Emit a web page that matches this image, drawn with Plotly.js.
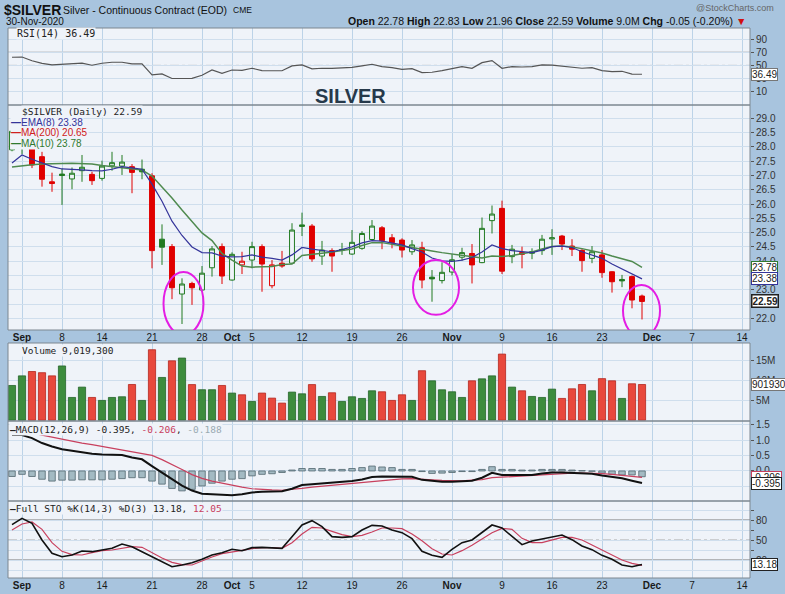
<!DOCTYPE html>
<html><head><meta charset="utf-8">
<script src="https://cdn.plot.ly/plotly-3.0.1.min.js"></script>
<style>html,body{margin:0;padding:0;background:#a8c4de}#chart{width:785px;height:594px}</style>
</head><body><div id="chart"></div>
<script>
// ---------- DATA ----------
const priorClose = 27.6; // close of the session before the first candle
const dates = ['2020-08-31','2020-09-01','2020-09-02','2020-09-03','2020-09-04','2020-09-08','2020-09-09','2020-09-10','2020-09-11','2020-09-14','2020-09-15','2020-09-16','2020-09-17','2020-09-18','2020-09-21','2020-09-22','2020-09-23','2020-09-24','2020-09-25','2020-09-28','2020-09-29','2020-09-30','2020-10-01','2020-10-02','2020-10-05','2020-10-06','2020-10-07','2020-10-08','2020-10-09','2020-10-12','2020-10-13','2020-10-14','2020-10-15','2020-10-16','2020-10-19','2020-10-20','2020-10-21','2020-10-22','2020-10-23','2020-10-26','2020-10-27','2020-10-28','2020-10-29','2020-10-30','2020-11-02','2020-11-03','2020-11-04','2020-11-05','2020-11-06','2020-11-09','2020-11-10','2020-11-11','2020-11-12','2020-11-13','2020-11-16','2020-11-17','2020-11-18','2020-11-19','2020-11-20','2020-11-23','2020-11-24','2020-11-25','2020-11-27','2020-11-30'];
const openP  = [27.90,28.40,28.05,27.66,26.78,27.05,26.88,27.17,27.04,26.90,27.34,27.33,27.31,27.22,26.99,24.77,24.51,22.85,23.22,22.99,23.77,24.51,23.34,23.87,24.04,24.51,23.14,23.93,23.93,25.27,25.23,24.18,24.37,24.38,24.25,24.45,24.76,25.17,24.82,24.74,24.33,24.47,23.44,23.32,23.62,24.14,24.27,23.95,25.42,25.85,24.16,24.30,24.33,24.37,24.78,24.88,24.53,24.38,24.10,24.22,23.63,23.36,23.46,22.78];
const highP  = [28.90,29.05,28.20,27.83,27.10,27.25,27.28,27.72,27.13,27.52,27.83,27.72,27.40,27.56,27.08,25.29,24.60,23.40,23.28,23.83,24.53,24.62,24.31,24.33,24.68,24.59,24.04,24.36,25.33,25.70,25.30,24.71,24.45,24.64,25.09,25.05,25.44,25.23,24.95,24.80,24.74,24.68,23.69,23.96,24.25,24.47,24.60,25.53,25.95,26.12,24.57,24.51,24.45,24.92,25.12,24.92,24.77,24.42,24.53,24.39,23.65,23.52,23.50,22.83];
const lowP   = [27.85,27.75,27.26,26.61,26.43,25.97,26.52,26.78,26.67,26.82,27.17,27.02,26.38,26.87,23.75,23.87,22.67,21.80,22.47,22.97,23.46,23.20,23.32,23.55,23.75,22.93,23.05,23.77,23.91,24.88,23.98,23.87,23.63,24.22,24.22,24.40,24.74,24.42,24.45,24.13,24.22,23.05,22.58,23.22,23.50,24.02,23.22,23.93,24.97,23.55,23.93,23.75,24.07,24.22,24.22,24.39,24.18,23.63,23.93,23.42,22.90,23.09,22.35,21.96];
const closeP = [28.55,28.90,27.37,26.87,26.72,27.00,27.08,27.29,26.82,27.33,27.45,27.47,27.11,27.13,24.37,24.49,23.07,23.20,23.07,23.58,24.43,23.48,24.24,24.00,24.51,23.90,23.87,23.83,25.09,25.22,24.08,24.39,24.18,24.41,24.66,24.97,25.23,24.72,24.65,24.39,24.57,23.34,23.38,23.61,24.05,24.30,23.87,25.15,25.65,23.65,24.42,24.24,24.28,24.77,24.82,24.60,24.42,24.02,24.33,23.60,23.28,23.31,22.64,22.59];
const volumeM = [8.77,11.2,12.3,12.0,11.2,13.7,5.75,8.36,5.75,5.0,5.75,5.92,9.02,5.0,17.8,10.8,15.0,15.7,9.0,7.7,7.7,8.77,6.85,6.42,4.74,6.85,5.58,4.32,7.1,6.67,9.0,6.0,6.93,4.74,5.92,5.5,7.43,7.18,5.0,6.42,5.0,12.5,9.95,7.68,7.18,5.75,9.95,10.45,11.2,16.7,8.36,7.43,6.0,5.75,7.85,5.5,7.93,9.02,7.43,10.5,9.95,5.5,9.2,9.0193];
const ema8 = [27.44,27.72,27.57,27.43,27.31,27.23,27.22,27.20,27.17,27.16,27.22,27.31,27.27,27.22,26.70,26.10,25.40,24.90,24.50,24.30,24.29,24.18,24.15,24.16,24.22,24.14,24.10,24.04,24.22,24.48,24.42,24.37,24.33,24.41,24.50,24.64,24.72,24.70,24.63,24.57,24.44,24.32,24.11,24.01,23.99,24.04,24.13,24.32,24.57,24.44,24.37,24.33,24.30,24.39,24.51,24.53,24.48,24.33,24.22,24.10,23.90,23.72,23.55,23.38];
const ma10 = [27.30,27.35,27.38,27.40,27.40,27.42,27.43,27.42,27.40,27.35,27.31,27.26,27.23,27.19,26.98,26.60,26.21,25.79,25.37,24.99,24.72,24.27,24.04,23.83,23.79,23.79,23.81,23.88,23.90,24.20,24.25,24.28,24.32,24.37,24.43,24.55,24.65,24.65,24.58,24.53,24.48,24.41,24.36,24.30,24.25,24.20,24.15,24.11,24.18,24.16,24.20,24.25,24.32,24.43,24.51,24.53,24.50,24.44,24.37,24.29,24.18,24.09,23.99,23.78];
const ma200Last = 20.65;
const rsi14 = [62.4,62.8,57.0,53.0,50.8,51.7,52.2,53.3,50.2,53.3,54.8,54.8,52.2,52.3,35.4,37.0,30.0,30.5,30.3,35.0,43.0,38.0,43.0,42.5,45.6,42.0,42.0,41.8,49.2,50.7,44.6,45.6,45.3,45.6,47.0,49.2,51.7,48.0,46.6,44.0,45.0,38.9,39.5,42.0,45.6,48.1,45.6,54.2,57.3,45.6,48.1,47.5,48.1,50.7,50.5,49.0,48.1,45.6,46.5,42.0,40.5,41.0,36.7,36.49];
const macdLine = [1.17,1.17,1.07,0.91,0.80,0.71,0.66,0.60,0.56,0.54,0.52,0.52,0.44,0.38,0.16,-0.05,-0.27,-0.48,-0.64,-0.74,-0.76,-0.78,-0.79,-0.76,-0.70,-0.68,-0.68,-0.66,-0.58,-0.46,-0.43,-0.41,-0.38,-0.36,-0.33,-0.28,-0.20,-0.18,-0.18,-0.18,-0.19,-0.29,-0.33,-0.35,-0.35,-0.33,-0.32,-0.22,-0.06,-0.13,-0.13,-0.13,-0.13,-0.08,-0.05,-0.05,-0.06,-0.07,-0.09,-0.15,-0.19,-0.24,-0.32,-0.395];
const macdSignal = [1.35,1.30,1.24,1.17,1.10,1.05,0.98,0.91,0.86,0.80,0.74,0.69,0.64,0.58,0.51,0.37,0.22,0.05,-0.12,-0.24,-0.33,-0.40,-0.48,-0.53,-0.58,-0.61,-0.62,-0.63,-0.61,-0.57,-0.53,-0.50,-0.47,-0.44,-0.41,-0.37,-0.34,-0.30,-0.28,-0.26,-0.25,-0.26,-0.29,-0.31,-0.32,-0.32,-0.30,-0.28,-0.22,-0.20,-0.18,-0.16,-0.14,-0.12,-0.10,-0.08,-0.07,-0.07,-0.07,-0.09,-0.11,-0.14,-0.17,-0.206];
const macdHist = [-0.18,-0.11,-0.18,-0.27,-0.33,-0.30,-0.30,-0.29,-0.29,-0.29,-0.27,-0.25,-0.22,-0.22,-0.33,-0.43,-0.57,-0.65,-0.60,-0.49,-0.40,-0.33,-0.27,-0.25,-0.16,-0.11,-0.09,-0.05,0.03,0.08,0.08,0.08,0.05,0.05,0.08,0.11,0.16,0.13,0.11,0.05,0.05,-0.02,-0.08,-0.07,-0.05,-0.02,-0.02,0.05,0.14,0.05,0.05,0.03,0.03,0.05,0.05,0.05,0.03,0.01,-0.01,-0.07,-0.11,-0.13,-0.13,-0.188];
const stoK = [73,82.5,75,50,30,25,27.5,33.5,32.5,35,37.5,44,40,32.5,25,17.5,10,12.5,16,21,27.5,31,36,34,38.5,39,38.5,37.5,55,72.5,79,70,55,54,55,65,72,71,65,61,52,33,27,24,36,46,50,61,72.5,68,55,43,48.5,51.5,54.5,57.5,50.5,41,35.5,27,21,12.5,10,13.18];
const stoD = [65,74,77,66,46,33,28,27.5,31,34,35,37.5,40,39,31,23,16.5,13,12.5,19,24.5,29.5,32.5,34.5,37,38.5,38.5,37.5,46,59,69,68,63,58,55,57,62,68,68,67,59,49,37,29,27.5,34,42,52,61,67.5,66,52.5,46,46,50,54,54,50,42.5,35,27.5,20,15,12.05];
const holidays = ['2020-09-07','2020-11-26'];
const tickDates = ['2020-09-01','2020-09-08','2020-09-14','2020-09-21','2020-09-28','2020-10-01','2020-10-05','2020-10-12','2020-10-19','2020-10-26','2020-11-02','2020-11-09','2020-11-16','2020-11-23','2020-12-01','2020-12-07','2020-12-14'];
const tickLabels = ['<b>Sep</b>','8','14','21','28','<b>Oct</b>','5','12','19','26','<b>Nov</b>','9','16','23','<b>Dec</b>','7','14'];
const highlightDates = ['2020-09-24','2020-10-29','2020-11-30'];

// ---------- STYLE ----------
const PAPER='#a8c4de', PLOT='#eff3f9', GRID='#cfdeed', VGRID='#bcd3e8', BORDER='#7d8790';
const G='#217a21', R='#e00000';
const SANS='Liberation Sans, Arial, sans-serif';
const MONO='DejaVu Sans Mono, monospace';

function calendar(start,end){const out=[];const d=new Date(start+'T00:00:00Z');const e=new Date(end+'T00:00:00Z');
  while(d<=e){const w=d.getUTCDay();const s=d.toISOString().slice(0,10);if(w!==0&&w!==6&&!holidays.includes(s))out.push(s);d.setUTCDate(d.getUTCDate()+1);}return out;}
const cal = calendar('2020-08-31','2020-12-31');
const X = s => cal.indexOf(s);
const xi = dates.map(X);
const tickvals = tickDates.map(X);
const up = closeP.map((c,i)=> c > (i ? closeP[i-1] : priorClose));

function candleSet(flag,color){
  const ids = xi.map((_,i)=>i).filter(i=>up[i]===flag);
  return {type:'candlestick', xaxis:'x2', yaxis:'y2', hoverinfo:'skip', whiskerwidth:0,
    x: ids.map(i=>xi[i]), open: ids.map(i=>openP[i]), high: ids.map(i=>highP[i]),
    low: ids.map(i=>lowP[i]), close: ids.map(i=>closeP[i]),
    increasing:{line:{color:color,width:1},fillcolor:PLOT},
    decreasing:{line:{color:color,width:1},fillcolor:color}};
}

const traces = [
  {type:'scatter',mode:'lines',x:xi,y:rsi14,xaxis:'x',yaxis:'y',line:{color:'#555',width:1.2},hoverinfo:'skip'},
  candleSet(true,G), candleSet(false,R),
  {type:'scatter',mode:'lines',x:xi,y:ma10,xaxis:'x2',yaxis:'y2',line:{color:'#4f8a4f',width:1.5},hoverinfo:'skip'},
  {type:'scatter',mode:'lines',x:xi,y:ema8,xaxis:'x2',yaxis:'y2',line:{color:'#34349a',width:1.2},hoverinfo:'skip'},
  {type:'bar',x:xi,y:volumeM,xaxis:'x',yaxis:'y3',width:0.72,hoverinfo:'skip',
    marker:{color:up.map(u=>u?'#3d8c3d':'#e8483c'),line:{color:up.map(u=>u?'#25652a':'#b3261e'),width:0.8}}},
  {type:'bar',x:xi,y:macdHist,xaxis:'x',yaxis:'y4',width:0.65,hoverinfo:'skip',
    marker:{color:'#a3bac3',line:{color:'#51666f',width:0.8}}},
  {type:'scatter',mode:'lines',x:xi,y:macdSignal,xaxis:'x',yaxis:'y4',line:{color:'#c8405e',width:1.2},hoverinfo:'skip'},
  {type:'scatter',mode:'lines',x:xi,y:macdLine,xaxis:'x',yaxis:'y4',line:{color:'#111',width:2},hoverinfo:'skip'},
  {type:'scatter',mode:'lines',x:xi,y:stoD,xaxis:'x',yaxis:'y5',line:{color:'#c8405e',width:1.2},hoverinfo:'skip'},
  {type:'scatter',mode:'lines',x:xi,y:stoK,xaxis:'x',yaxis:'y5',line:{color:'#111',width:1.6},hoverinfo:'skip'}
];

const T=28, H=550;
const py = p => 1-(p-T)/H;
const D = {rsi:[py(105),1], main:[py(330),py(105)], vol:[py(421),py(343)], macd:[py(501),py(421)], sto:[0,py(501)]};

const yBase = {side:'right',anchor:'x',showgrid:true,gridcolor:GRID,gridwidth:1,zeroline:false,ticks:'outside',ticklen:3,tickcolor:'#555',
  tickfont:{family:SANS,size:10,color:'#333'},showline:false,fixedrange:true};
const xBase = {range:[-0.4,73.8],tickvals:tickvals,ticktext:tickLabels,showgrid:true,gridcolor:VGRID,gridwidth:1,zeroline:false,
  ticks:'',tickfont:{family:SANS,size:10,color:'#1a1a1a'},showline:false,fixedrange:true,rangeslider:{visible:false}};

const layout = {
  width:785,height:594,margin:{l:8,r:35,t:T,b:16},paper_bgcolor:PAPER,plot_bgcolor:PLOT,showlegend:false,
  font:{family:SANS,size:10,color:'#222'},
  xaxis:Object.assign({},xBase,{anchor:'y5'}),
  xaxis2:Object.assign({},xBase,{anchor:'y2',matches:'x'}),
  yaxis:Object.assign({},yBase,{domain:D.rsi,range:[-10.4,107],tickvals:[10,30,50,70,90]}),
  yaxis2:Object.assign({},yBase,{domain:D.main,range:[21.59,29.47],dtick:0.5,tick0:22,tickformat:'.1f'}),
  yaxis3:Object.assign({},yBase,{domain:D.vol,range:[-0.2,19.5],tickvals:[5,10,15],ticktext:['5M','10M','15M']}),
  yaxis4:Object.assign({},yBase,{domain:D.macd,range:[-0.98,1.63],tickvals:[-0.5,0,0.5,1,1.5],ticktext:['-0.5','0.0','0.5','1.0','1.5']}),
  yaxis5:Object.assign({},yBase,{domain:D.sto,range:[-7,108.5],tickvals:[5,20,35,50,65,80,95],ticktext:['','20','','50','','80','']}),
  shapes:[], annotations:[]
};

function hline(yref,v,color,dash){return {type:'line',xref:'x domain',x0:0,x1:1,yref:yref,y0:v,y1:v,line:{color:color,width:1,dash:dash||'solid'},layer:'below'};}
layout.shapes.push(hline('y',70,'#8a8a8a'),hline('y',30,'#8a8a8a'),hline('y',50,'#a0a0a0','dashdot'),
  hline('y5',80,'#777'),hline('y5',20,'#777'),hline('y5',50,'#a8a8a8','dashdot'));
for(const k of ['rsi','main','vol','macd','sto']){
  layout.shapes.push({type:'rect',xref:'paper',yref:'paper',x0:0,x1:1,y0:D[k][0],y1:D[k][1],line:{color:BORDER,width:1},fillcolor:'rgba(0,0,0,0)',layer:'above'});
}
const hl = [{dx:0.15,cy:22.52,hw:2.0,hh:1.1},{dx:0.4,cy:23.08,hw:2.3,hh:0.96},{dx:-0.05,cy:22.26,hw:1.85,hh:0.91}];
highlightDates.forEach((d,k)=>{const c=X(d)+hl[k].dx;
  layout.shapes.push({type:'circle',xref:'x2',yref:'y2',x0:c-hl[k].hw,x1:c+hl[k].hw,y0:hl[k].cy-hl[k].hh,y1:hl[k].cy+hl[k].hh,line:{color:'#e41de4',width:2},layer:'above'});});

const px = p => (p-8)/742;
function ann(text,x,y,opts){return Object.assign({text:text,xref:'paper',yref:'paper',x:px(x),y:py(y),xanchor:'left',yanchor:'middle',showarrow:false,font:{family:SANS,size:10,color:'#222'}},opts||{});}
const A = layout.annotations;
const last = a => a[a.length-1];
// header
A.push(ann('<b>$SILVER</b>',2,10,{font:{family:SANS,size:14,color:'#111'}}));
A.push(ann('Silver - Continuous Contract (EOD)',61,10,{font:{family:SANS,size:10.5,color:'#111'}}));
A.push(ann('CME',231,10,{font:{family:SANS,size:8.5,color:'#111'}}));
A.push(ann('30-Nov-2020',4,21,{font:{family:SANS,size:10,color:'#111'}}));
A.push(ann('@StockCharts.com',776,8,{xanchor:'right',font:{family:SANS,size:9,color:'#666'}}));
A.push(ann('<b>Open</b> '+last(openP).toFixed(2)+' <b>High</b> '+last(highP).toFixed(2)+' <b>Low</b> '+last(lowP).toFixed(2)+' <b>Close</b> '+last(closeP).toFixed(2)+' <b>Volume</b> 9.0M <b>Chg</b> -0.05 (-0.20%) <span style="color:#d01010">▼</span>',748,21,{xanchor:'right',font:{family:SANS,size:10.5,color:'#111'}}));
// panel legends
const LB = {bgcolor:PLOT,borderpad:0};
A.push(ann('RSI(14) '+last(rsi14).toFixed(2),16,34,Object.assign({font:{family:MONO,size:10,color:'#222'}},LB)));
A.push(ann('<b>SILVER</b>',350,96,{xanchor:'center',font:{family:SANS,size:20,color:'#26394a'}}));
A.push(ann('$SILVER (Daily) '+last(closeP).toFixed(2),21,112,Object.assign({font:{family:MONO,size:9.5,color:'#222'}},LB)));
A.push(ann('<b>—</b>EMA(8) '+last(ema8).toFixed(2),10,122.7,Object.assign({font:{family:SANS,size:10,color:'#34349a'}},LB)));
A.push(ann('<b>—</b>MA(200) '+ma200Last.toFixed(2),10,132.7,Object.assign({font:{family:SANS,size:10,color:'#d02020'}},LB)));
A.push(ann('<b>—</b>MA(10) '+last(ma10).toFixed(2),10,143,Object.assign({font:{family:SANS,size:10,color:'#2f7a2f'}},LB)));
A.push(ann('Volume 9,019,300',21,350,Object.assign({font:{family:MONO,size:9.5,color:'#222'}},LB)));
A.push(ann('<b>—</b>MACD(12,26,9) '+last(macdLine).toFixed(3)+', <span style="color:#c8405e">'+last(macdSignal).toFixed(3)+'</span>, <span style="color:#9aaab2">'+last(macdHist).toFixed(3)+'</span>',9,429,Object.assign({font:{family:MONO,size:9.5,color:'#222'}},LB)));
A.push(ann('<b>—</b>Full STO %K(14,3) %D(3) '+last(stoK).toFixed(2)+', <span style="color:#c8405e">'+last(stoD).toFixed(2)+'</span>',9,508,Object.assign({font:{family:MONO,size:9.5,color:'#222'}},LB)));
function tag(text,yref,y,color,bold){return {text:bold?'<b>'+text+'</b>':text,xref:'paper',x:1,xanchor:'left',xshift:1,yref:yref,y:y,yanchor:'middle',showarrow:false,
  bgcolor:'#ffffff',bordercolor:color,borderwidth:bold?1.5:1,borderpad:0,font:{family:SANS,size:10,color:'#222'}};}
A.push(tag(last(rsi14).toFixed(2),'y',last(rsi14),'#777'));
A.push(tag(last(ma10).toFixed(2),'y2',last(ma10),'#2f7a2f'));
A.push(tag(last(ema8).toFixed(2),'y2',last(ema8),'#34349a'));
A.push(tag(last(closeP).toFixed(2),'y2',last(closeP),'#222',true));
A.push(tag(Math.round(last(volumeM)*1e6).toString(),'y3',last(volumeM),'#777'));
A.push(tag(last(macdSignal).toFixed(3),'y4',last(macdSignal),'#c8405e'));
A.push(tag(last(macdLine).toFixed(3),'y4',last(macdLine),'#222'));
A.push(tag(last(stoK).toFixed(2),'y5',last(stoK),'#222'));

Plotly.newPlot('chart',traces,layout,{staticPlot:true,displayModeBar:false});
</script></body></html>
